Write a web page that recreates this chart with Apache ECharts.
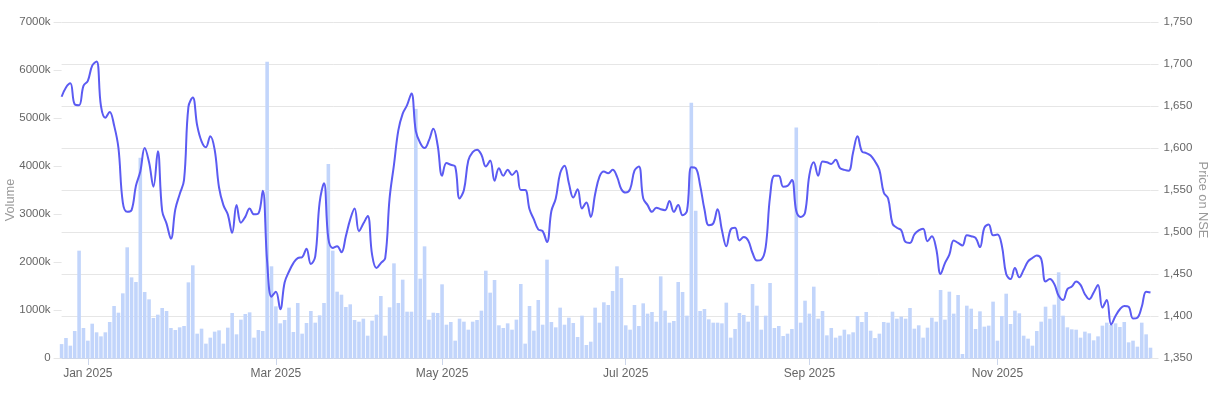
<!DOCTYPE html>
<html>
<head>
<meta charset="utf-8">
<script src="https://cdn.jsdelivr.net/npm/echarts@6/dist/echarts.min.js"></script>
<style>
html,body{margin:0;padding:0;background:#fff;}
#chart{width:1212px;height:395px;}
</style>
</head>
<body>
<div id="chart"></div>
<script>
// Trading calendar (NSE), Dec 23 2024 .. Dec 23 2025
const startDate = '2024-12-23';
const endDate = '2025-12-23';
const holidays = ['2024-12-25','2025-02-26','2025-03-14','2025-03-31','2025-04-10','2025-04-14','2025-04-18','2025-05-01','2025-08-15','2025-08-27','2025-10-02','2025-10-22','2025-11-05'];
const specialSessions = ['2025-02-01'];
const labelMonths = [0, 2, 4, 6, 8, 10];
const monthNames = ['Jan','Feb','Mar','Apr','May','Jun','Jul','Aug','Sep','Oct','Nov','Dec'];

// Daily volume (in thousands of shares)
const volumeK = [
290,417,257,562,2236,625,361,715,535,451,
535,750,1083,944,1347,2306,1680,1583,4170,1375,
1222,833,903,1042,979,625,583,639,667,1576,
1931,507,611,299,424,549,576,299,632,938,
493,799,917,951,424,583,562,6170,1910,1076,
722,792,1049,542,1146,507,729,979,736,889,
1146,4040,2236,1382,1319,1063,1118,792,757,819,
465,778,903,1292,465,1056,1972,1146,1632,965,
965,5190,1653,2326,799,944,938,1535,694,750,
361,819,757,590,757,792,986,1819,1361,1625,
681,625,722,590,799,1542,299,1083,569,1208,
694,2049,750,639,1049,694,840,729,438,882,
271,340,1049,736,1160,1104,1396,1910,1667,681,
590,1104,667,1139,924,958,757,1701,986,736,
771,1583,1375,882,5320,3070,979,1021,806,736,
736,722,1153,424,604,938,896,757,1542,1090,
590,882,1563,625,667,458,507,604,4800,736,
1194,924,1486,819,979,472,625,424,465,590,
493,535,875,750,958,569,417,507,750,736,
965,819,861,819,1042,611,681,424,632,840,
757,1417,799,1382,924,1313,83,1090,1028,604,
972,653,674,1174,361,875,1340,708,986,931,
465,403,257,562,757,1069,819,1111,1785,882,
639,597,590,424,549,514,368,451,674,736,
688,722,646,750,326,361,236,736,493,215
];

// Daily closing price on NSE
const price = [
1661,1672,1677,1652,1651,1674,1680,1698,1703,1650,
1636,1643,1627,1600,1535,1524,1526,1555,1572,1600,
1583,1554,1596,1525,1510,1492,1527,1545,1562,1649,
1660,1627,1608,1601,1614,1598,1553,1532,1521,1499,
1532,1511,1518,1528,1521,1522,1549,1465,1423,1429,
1408,1440,1453,1463,1469,1470,1480,1462,1471,1535,
1558,1492,1481,1483,1476,1495,1515,1528,1501,1510,
1519,1473,1457,1463,1469,1540,1580,1621,1641,1651,
1665,1620,1606,1600,1609,1623,1603,1567,1582,1580,
1578,1540,1550,1585,1595,1598,1592,1578,1585,1561,
1576,1567,1574,1568,1573,1550,1550,1527,1515,1503,
1501,1488,1525,1540,1570,1579,1558,1541,1551,1528,
1535,1518,1545,1566,1572,1570,1574,1566,1551,1547,
1551,1573,1578,1540,1532,1524,1529,1527,1526,1537,
1524,1532,1520,1525,1577,1576,1556,1527,1508,1510,
1527,1502,1483,1503,1505,1490,1494,1490,1475,1466,
1467,1482,1542,1567,1567,1554,1555,1562,1525,1518,
1523,1568,1583,1567,1584,1583,1581,1586,1576,1574,
1573,1595,1614,1596,1594,1591,1584,1574,1547,1540,
1510,1505,1502,1488,1487,1497,1502,1504,1489,1495,
1480,1450,1463,1473,1490,1487,1484,1496,1495,1493,
1482,1505,1509,1496,1497,1484,1450,1444,1457,1446,
1455,1465,1469,1472,1468,1441,1444,1438,1424,1419,
1432,1435,1441,1437,1426,1420,1428,1437,1410,1419,
1390,1400,1408,1412,1411,1397,1398,1411,1429,1428
];

// Build trading-day categories
function iso(d){ return d.toISOString().slice(0,10); }
const dates = [];
(function(){
  const d = new Date(startDate + 'T00:00:00Z');
  const end = new Date(endDate + 'T00:00:00Z');
  while (d <= end) {
    const s = iso(d);
    const wd = d.getUTCDay();
    if ((wd !== 0 && wd !== 6 && holidays.indexOf(s) < 0) || specialSessions.indexOf(s) >= 0) dates.push(s);
    d.setUTCDate(d.getUTCDate() + 1);
  }
})();

// first trading day of each labelled month
const labelIdx = new Set();
(function(){
  let prevKey = null;
  dates.forEach((s, i) => {
    const key = s.slice(0,7);
    if (key !== prevKey) {
      const m = parseInt(s.slice(5,7), 10) - 1;
      if (s.slice(0,4) === '2025' && labelMonths.indexOf(m) >= 0) labelIdx.add(i);
      prevKey = key;
    }
  });
})();

const FONT = "'Liberation Sans', Arial, Helvetica, sans-serif";
const chart = echarts.init(document.getElementById('chart'), null, {renderer: 'canvas'});
chart.setOption({
  animation: false,
  backgroundColor: '#ffffff',
  textStyle: {fontFamily: FONT},
  grid: {left: 61.6, right: 61.5, top: 22, bottom: 37, containLabel: false, outerBoundsMode: 'none'},
  xAxis: {
    type: 'category',
    data: dates,
    boundaryGap: false,
    axisLine: {show: true, lineStyle: {color: '#ccd6eb', width: 1}},
    axisTick: {show: true, length: 7, interval: (i) => labelIdx.has(i), lineStyle: {color: '#ccd6eb'}},
    axisLabel: {
      interval: (i) => labelIdx.has(i),
      formatter: (v) => monthNames[parseInt(v.slice(5,7),10)-1] + ' ' + v.slice(0,4),
      color: '#666666', fontSize: 12, margin: 10, fontFamily: FONT
    },
    splitLine: {show: false}
  },
  yAxis: [
    {
      type: 'value', position: 'left', min: 0, max: 7000000, interval: 1000000,
      name: 'Volume', nameLocation: 'middle', nameGap: 45, nameRotate: 90, nameMoveOverlap: false,
      nameTextStyle: {color: '#999999', fontSize: 12.8, fontFamily: FONT, padding: [0, 20, 0, 0]},
      axisLine: {show: false},
      axisTick: {show: true, length: 8, lineStyle: {color: '#e6e6e6'}},
      axisLabel: {formatter: (v) => v === 0 ? '0' : (v / 1000) + 'k', color: '#666666', fontSize: 11.5, margin: 11, fontFamily: FONT},
      splitLine: {show: false}
    },
    {
      type: 'value', position: 'right', min: 1350, max: 1750, interval: 50,
      name: 'Price on NSE', nameLocation: 'middle', nameGap: 46, nameRotate: -90, nameMoveOverlap: false,
      nameTextStyle: {color: '#999999', fontSize: 12.8, fontFamily: FONT, padding: [0, 0, 0, 20]},
      axisLine: {show: false},
      axisTick: {show: true, length: 8, lineStyle: {color: '#e6e6e6'}},
      axisLabel: {formatter: (v) => v.toLocaleString('en-US'), color: '#666666', fontSize: 11.5, margin: 13, fontFamily: FONT},
      splitLine: {show: true, lineStyle: {color: '#e6e6e6', width: 1}}
    }
  ],
  series: [
    {
      name: 'Volume', type: 'bar', yAxisIndex: 0,
      data: volumeK.map(v => v * 1000),
      barCategoryGap: '18%',
      itemStyle: {color: '#c2d5fb'},
      clip: true, z: 1
    },
    {
      name: 'Price', type: 'line', yAxisIndex: 1,
      data: price,
      smooth: 0.4, showSymbol: false, symbol: 'none',
      lineStyle: {color: '#5b5bf2', width: 2},
      z: 3
    }
  ]
});
</script>
</body>
</html>
